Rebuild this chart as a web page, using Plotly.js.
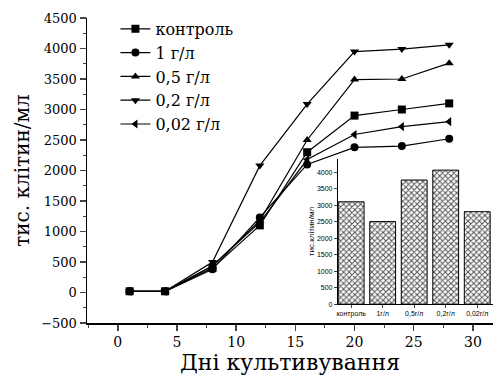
<!DOCTYPE html>
<html><head><meta charset="utf-8">
<script src="https://cdn.plot.ly/plotly-3.0.1.min.js"></script>
<style>html,body{margin:0;padding:0;background:#fff}</style>
</head><body><div id="chart" style="width:496px;height:381px"></div>
<script>
const days = [1, 4, 8, 12, 16, 20, 24, 28];
const control = [20, 20, 400, 1100, 2300, 2900, 3000, 3100];
const c1 = [20, 20, 380, 1230, 2100, 2380, 2400, 2520];
const c05 = [20, 20, 430, 1180, 2500, 3490, 3500, 3760];
const c02 = [20, 20, 500, 2080, 3090, 3950, 3990, 4060];
const c002 = [20, 20, 440, 1150, 2180, 2590, 2720, 2800];
const seriesNames = ['контроль', '1 г/л', '0,5 г/л', '0,2 г/л', '0,02 г/л'];
const symbols = ['square', 'circle', 'triangle-up', 'triangle-down', 'triangle-left'];
const insetCats = ['контроль', '1г/л', '0,5г/л', '0,2г/л', '0,02г/л'];
const insetVals = [3100, 2500, 3760, 4060, 2800];

const serif = 'DejaVu Serif, serif';
const narrow = 'Liberation Sans Narrow, Liberation Sans, Arial, sans-serif';
const all = [control, c1, c05, c02, c002];
const traces = all.map((ys, i) => ({
  x: days, y: ys, name: seriesNames[i], type: 'scatter', mode: 'lines+markers',
  line: {color: '#000', width: 1.2},
  marker: {symbol: symbols[i], size: 8, color: '#000'},
  xaxis: 'x', yaxis: 'y'
}));
traces.push({
  type: 'bar', x: insetCats, y: insetVals, xaxis: 'x2', yaxis: 'y2', showlegend: false,
  width: 0.82,
  marker: {color: '#fff', line: {color: '#000', width: 1},
    pattern: {shape: 'x', fgcolor: '#555', bgcolor: '#fff', size: 4, solidity: 0.45}}
});

const layout = {
  width: 496, height: 381,
  margin: {l: 87, r: 3, t: 18, b: 58},
  paper_bgcolor: '#fff', plot_bgcolor: 'rgba(0,0,0,0)',
  font: {family: serif, color: '#000'},
  showlegend: true,
  legend: {x: 0.07, y: 1.02, xanchor: 'left', yanchor: 'top', bgcolor: 'rgba(0,0,0,0)',
    font: {family: serif, size: 16, color: '#000'}, tracegroupgap: 0},
  xaxis: {domain: [0, 1], range: [-2.6, 31.7], dtick: 5, tick0: 0, showgrid: false, zeroline: false,
    showline: true, linecolor: '#000', linewidth: 1.5, ticks: 'outside', ticklen: 6, tickwidth: 1.5,
    minor: {dtick: 2.5, ticklen: 3, tickwidth: 1, ticks: 'outside', showgrid: false},
    tickfont: {family: serif, size: 14},
    title: {text: 'Дні культивування', font: {family: serif, size: 22}, standoff: 2}},
  yaxis: {domain: [0, 1], range: [-500, 4500], dtick: 500, showgrid: false, zeroline: false,
    showline: true, linecolor: '#000', linewidth: 1.5, ticks: 'outside', ticklen: 6, tickwidth: 1.5,
    minor: {dtick: 250, ticklen: 3, tickwidth: 1, ticks: 'outside', showgrid: false},
    tickfont: {family: serif, size: 13},
    title: {text: 'тис. клітин/мл', font: {family: serif, size: 20}, standoff: 6}},
  xaxis2: {domain: [0.618, 1], anchor: 'y2', range: [-0.42, 4.5], showgrid: false, zeroline: false,
    showline: true, linecolor: '#000', linewidth: 1, ticks: 'outside', ticklen: 3,
    tickfont: {family: narrow, size: 7}},
  yaxis2: {domain: [0.062, 0.538], anchor: 'x2', range: [0, 4400], dtick: 500, showgrid: false, zeroline: false,
    showline: true, linecolor: '#000', linewidth: 1, ticks: 'outside', ticklen: 3,
    tickfont: {family: narrow, size: 7},
    title: {text: 'тис.клітин/мл', font: {family: narrow, size: 8}, standoff: 1}}
};
Plotly.newPlot('chart', traces, layout, {displayModeBar: false, staticPlot: true});
</script></body></html>
